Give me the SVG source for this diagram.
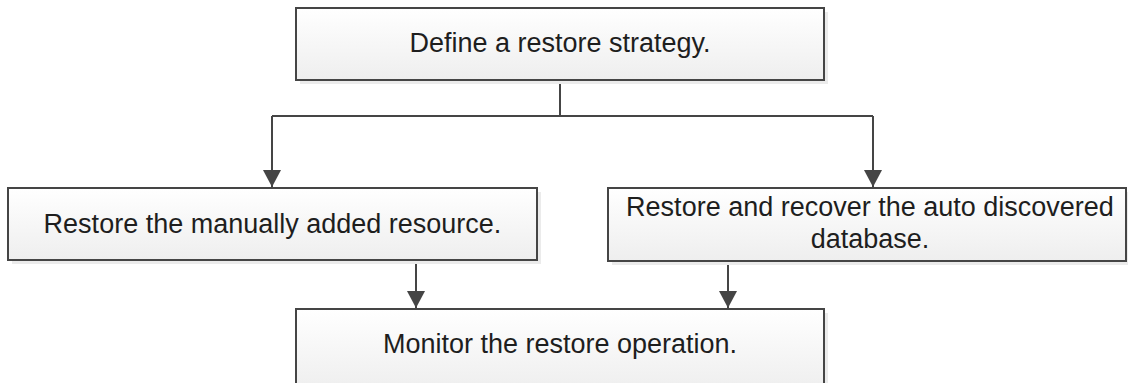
<svg xmlns="http://www.w3.org/2000/svg" width="1128" height="383" viewBox="0 0 1128 383">
  <style>
    .box { fill: url(#g); stroke: #454545; stroke-width: 2; }
    .shadow { fill: #ebebeb; }
    .lbl { font-family: "Liberation Sans", Arial, sans-serif; font-size: 27px; fill: #1e1e1e; text-anchor: middle; }
    .conn { fill: none; stroke: #454545; stroke-width: 2; }
  </style>
  <defs>
    <linearGradient id="g" x1="0" y1="0" x2="0" y2="1">
      <stop offset="0" stop-color="#ffffff"/>
      <stop offset="1" stop-color="#eeeeee"/>
    </linearGradient>
    <marker id="arr" markerUnits="userSpaceOnUse" markerWidth="18" markerHeight="18" viewBox="0 0 18 18" refX="17" refY="9" orient="auto">
      <path d="M0,0 L17,9 L0,18 Z" fill="#454545"/>
    </marker>
  </defs>
  <rect width="1128" height="383" fill="#ffffff"/>

  <g id="connectors">
    <path class="conn" d="M560,80 V116"/>
    <path class="conn" d="M272,116 H873"/>
    <path class="conn" d="M272,116 V187" marker-end="url(#arr)"/>
    <path class="conn" d="M873,116 V187" marker-end="url(#arr)"/>
    <path class="conn" d="M416,260 V308" marker-end="url(#arr)"/>
    <path class="conn" d="M728,261 V308" marker-end="url(#arr)"/>
  </g>

  <g id="define">
    <rect class="shadow" x="300" y="12" width="528" height="72"/>
    <rect class="box" x="296" y="8" width="528" height="72"/>
    <text class="lbl" x="560" y="52">Define a restore strategy.</text>
  </g>

  <g id="manual">
    <rect class="shadow" x="12" y="192" width="529" height="72"/>
    <rect class="box" x="8" y="188" width="529" height="72"/>
    <text class="lbl" x="272.5" y="233">Restore the manually added resource.</text>
  </g>

  <g id="auto">
    <rect class="shadow" x="612" y="192" width="518" height="73"/>
    <rect class="box" x="608" y="188" width="518" height="73"/>
    <text class="lbl" x="870" y="216">Restore and recover the auto discovered</text>
    <text class="lbl" x="870" y="248">database.</text>
  </g>

  <g id="monitor">
    <rect class="shadow" x="300" y="313" width="528" height="80"/>
    <rect class="box" x="296" y="309" width="528" height="82"/>
    <text class="lbl" x="560" y="353">Monitor the restore operation.</text>
  </g>
</svg>
